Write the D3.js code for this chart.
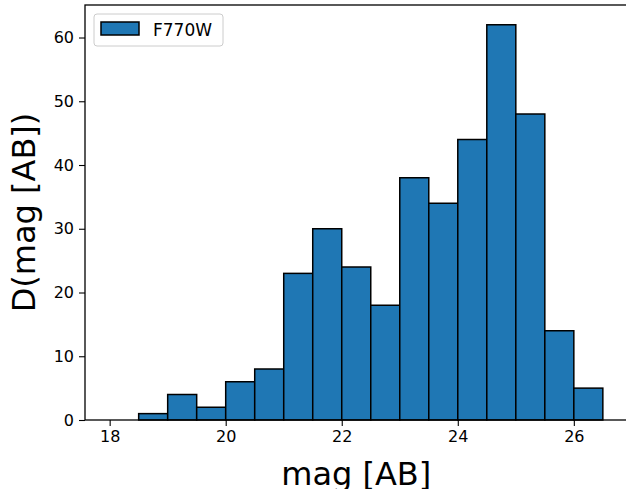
<!DOCTYPE html>
<html>
<head>
<meta charset="utf-8">
<script src="https://cdn.jsdelivr.net/npm/d3@7"></script>
<style>
  body { margin: 0; background: #fff; }
  svg { display: block; font-family: "DejaVu Sans", sans-serif; }
</style>
</head>
<body>
<svg></svg>
<script>
// histogram bins (left edges, width 0.5) and counts
const binStarts = [18, 18.5, 19, 19.5, 20, 20.5, 21, 21.5, 22, 22.5, 23, 23.5, 24, 24.5, 25, 25.5, 26];
const counts = [0, 1, 4, 2, 6, 8, 23, 30, 24, 18, 38, 34, 44, 62, 48, 14, 5];
const binWidth = 0.5;
const xTicks = [18, 20, 22, 24, 26];
const yTicks = [0, 10, 20, 30, 40, 50, 60];
const seriesName = "F770W";

const W = 626, H = 489;
const margin = { top: 5, right: -1.5, bottom: 69, left: 85 };
const width = W - margin.left - margin.right;
const height = H - margin.top - margin.bottom;

const svg = d3.select("svg").attr("width", W).attr("height", H);

const x = d3.scaleLinear().domain([17.575, 26.925]).range([0, width]);
const y = d3.scaleLinear().domain([0, 65.1]).range([height, 0]);

const plot = svg.append("g").attr("transform", `translate(${margin.left}, ${margin.top})`);

// bars
plot.selectAll("rect.bar")
  .data(binStarts.map((s, i) => ({ s, c: counts[i] })))
  .join("rect")
  .attr("class", "bar")
  .attr("x", d => x(d.s))
  .attr("y", d => y(d.c))
  .attr("width", d => x(d.s + binWidth) - x(d.s))
  .attr("height", d => y(0) - y(d.c))
  .attr("fill", "#1f77b4")
  .attr("stroke", "#000")
  .attr("stroke-width", 1.5);

// axes
const xAxis = plot.append("g")
  .attr("transform", `translate(0, ${height})`)
  .call(d3.axisBottom(x).tickValues(xTicks).tickSize(6).tickPadding(5).tickFormat(d3.format("d")));
const yAxis = plot.append("g")
  .call(d3.axisLeft(y).tickValues(yTicks).tickSize(6).tickPadding(5).tickFormat(d3.format("d")));

[xAxis, yAxis].forEach(a => {
  a.selectAll("text").attr("font-size", 16).attr("fill", "#000").attr("font-family", "DejaVu Sans");
  a.selectAll("line").attr("stroke", "#000").attr("stroke-width", 1.1);
  a.select(".domain").remove();
});

// spines
plot.append("rect")
  .attr("x", 0).attr("y", 0).attr("width", width).attr("height", height)
  .attr("fill", "none").attr("stroke", "#000").attr("stroke-width", 1.3);

// axis labels
svg.append("text")
  .attr("x", margin.left + width / 2).attr("y", 485)
  .attr("text-anchor", "middle").attr("font-size", 32)
  .text("mag [AB]");
svg.append("text")
  .attr("transform", `translate(35, ${margin.top + height / 2}) rotate(-90)`)
  .attr("text-anchor", "middle").attr("font-size", 32)
  .text("D(mag [AB])");

// legend
const lg = svg.append("g").attr("transform", "translate(94, 14)");
lg.append("rect")
  .attr("width", 129).attr("height", 32).attr("rx", 3)
  .attr("fill", "#fff").attr("fill-opacity", 0.8)
  .attr("stroke", "#cccccc").attr("stroke-width", 1);
lg.append("rect")
  .attr("x", 7).attr("y", 8).attr("width", 38).attr("height", 13)
  .attr("fill", "#1f77b4").attr("stroke", "#000").attr("stroke-width", 1.5);
lg.append("text")
  .attr("x", 59).attr("y", 22).attr("font-size", 17)
  .text(seriesName);
</script>
</body>
</html>
